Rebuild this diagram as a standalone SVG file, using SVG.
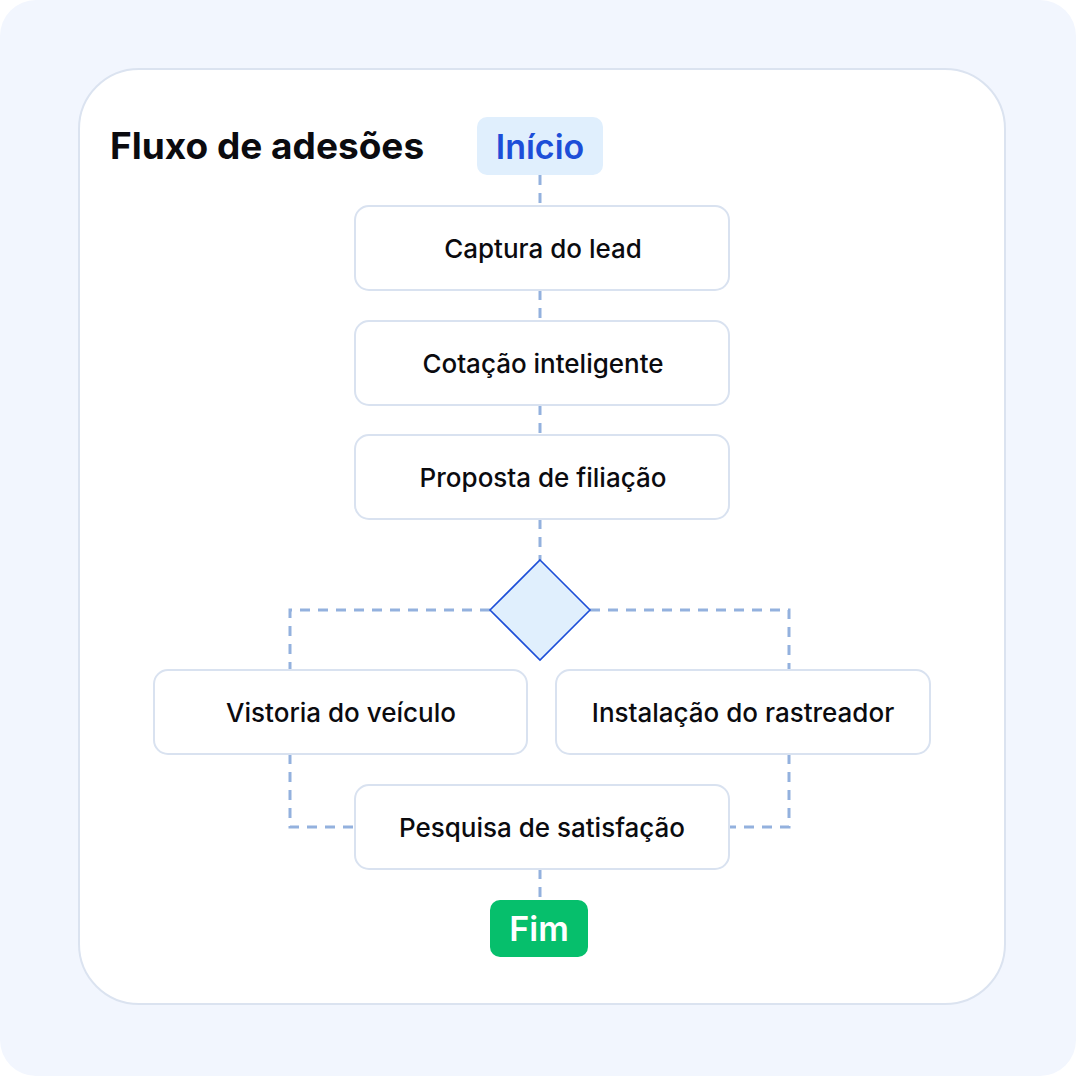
<svg xmlns="http://www.w3.org/2000/svg" width="1076" height="1076" viewBox="0 0 1076 1076">
<style>
.node rect{fill:#ffffff;stroke:#d9e2f0;stroke-width:2}
.node text{font-family:Inter,"Noto Sans",sans-serif;font-size:26px;fill:#0b0b0f;text-anchor:middle;font-weight:500}
.conn{fill:none;stroke:#93b1de;stroke-width:3;stroke-dasharray:10 8}
.term{font-family:Inter,"Noto Sans",sans-serif;font-size:34px;font-weight:600;text-anchor:middle}
</style>
<rect x="0" y="0" width="1076" height="1076" fill="#ffffff"/>
<rect x="0" y="0" width="1076" height="1076" rx="36" fill="#f2f6fe"/>
<rect x="79" y="69" width="926" height="935" rx="60" fill="#ffffff" stroke="#dbe3f0" stroke-width="2"/>
<text x="110" y="159" font-family="Inter,'Noto Sans',sans-serif" font-size="37" font-weight="700" fill="#0b0b0f">Fluxo de adesões</text>
<g id="connectors">
<path class="conn" d="M540 175 V206"/>
<path class="conn" d="M540 290 V321"/>
<path class="conn" d="M540 405 V435"/>
<path class="conn" d="M540 519 V560"/>
<path class="conn" d="M490 610 H290 V670"/>
<path class="conn" d="M590 610 H789 V670"/>
<path class="conn" d="M290 754 V827 H355"/>
<path class="conn" d="M789 754 V827 H729"/>
<path class="conn" d="M540 869 V900"/>
</g>
<g id="inicio">
<rect x="477" y="117" width="126" height="58" rx="10" fill="#e0effd"/>
<text class="term" x="540" y="159" fill="#1d4ed8">Início</text>
</g>
<g id="captura" class="node">
<rect x="355" y="206" width="374" height="84" rx="14"/>
<text x="543" y="258">Captura do lead</text>
</g>
<g id="cotacao" class="node">
<rect x="355" y="321" width="374" height="84" rx="14"/>
<text x="543" y="373">Cotação inteligente</text>
</g>
<g id="proposta" class="node">
<rect x="355" y="435" width="374" height="84" rx="14"/>
<text x="543" y="487">Proposta de filiação</text>
</g>
<g id="decisao">
<polygon points="540,560 590,610 540,660 490,610" fill="#e0effd" stroke="#1d4ed8" stroke-width="1.6"/>
</g>
<g id="vistoria" class="node">
<rect x="154" y="670" width="373" height="84" rx="14"/>
<text x="341" y="722">Vistoria do veículo</text>
</g>
<g id="instalacao" class="node">
<rect x="556" y="670" width="374" height="84" rx="14"/>
<text x="743" y="722">Instalação do rastreador</text>
</g>
<g id="pesquisa" class="node">
<rect x="355" y="785" width="374" height="84" rx="14"/>
<text x="542" y="837">Pesquisa de satisfação</text>
</g>
<g id="fim">
<rect x="490" y="900" width="98" height="57" rx="10" fill="#06bf6c"/>
<text class="term" x="539" y="941" fill="#ffffff">Fim</text>
</g>
</svg>
